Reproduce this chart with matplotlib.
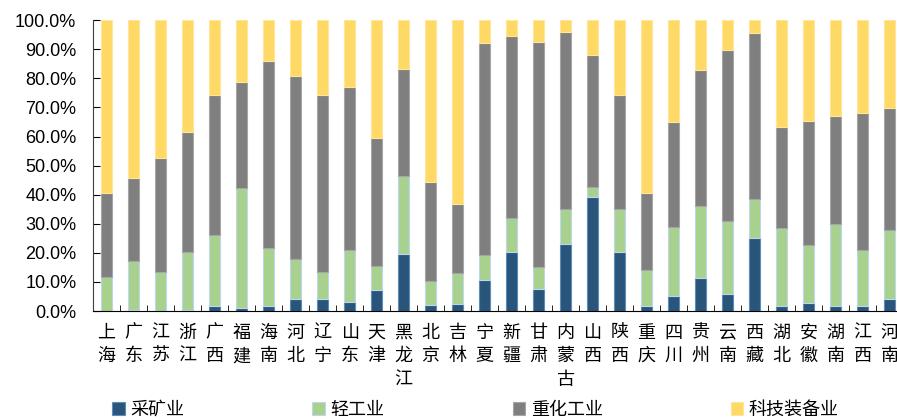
import matplotlib
matplotlib.use("Agg")
import matplotlib.pyplot as plt
import numpy as np
from matplotlib.ticker import FuncFormatter

plt.rcParams['font.family'] = ['Noto Sans CJK SC', 'DejaVu Sans']

# provinces, left to right
provinces = ['上海', '广东', '江苏', '浙江', '广西', '福建', '海南', '河北', '辽宁', '山东',
             '天津', '黑龙江', '北京', '吉林', '宁夏', '新疆', '甘肃', '内蒙古', '山西', '陕西',
             '重庆', '四川', '贵州', '云南', '西藏', '湖北', '安徽', '湖南', '江西', '河南']

mining = [0.0, 0.5, 0.0, 0.2, 1.7, 0.9, 1.7, 4.0, 4.0, 3.0,
          7.1, 19.7, 1.9, 2.4, 10.7, 20.2, 7.4, 23.1, 39.1, 20.2,
          1.6, 5.0, 11.5, 5.7, 25.2, 1.6, 2.9, 1.8, 1.7, 4.0]
light = [11.8, 16.7, 13.5, 20.1, 24.6, 41.5, 19.9, 13.8, 9.4, 18.1,
         8.5, 26.8, 8.4, 10.8, 8.7, 11.9, 7.6, 12.0, 3.6, 14.9,
         12.5, 23.8, 24.7, 25.3, 13.3, 26.9, 19.7, 28.0, 19.4, 23.8]
heavy = [28.7, 28.6, 39.0, 41.1, 47.9, 36.3, 64.2, 63.1, 60.7, 55.9,
         44.0, 36.7, 33.9, 23.7, 72.7, 62.3, 77.4, 60.9, 45.3, 39.0,
         26.6, 36.3, 46.8, 58.6, 57.1, 34.8, 42.6, 37.4, 46.9, 42.0]
tech = [59.5, 54.2, 47.5, 38.6, 25.8, 21.3, 14.2, 19.1, 25.9, 23.0,
        40.4, 16.8, 55.8, 63.1, 7.9, 5.6, 7.6, 4.0, 12.0, 25.9,
        59.3, 34.9, 17.0, 10.4, 4.4, 36.7, 34.8, 32.8, 32.0, 30.2]

series_names = ['采矿业', '轻工业', '重化工业', '科技装备业']
colors = ['#2A557A', '#A9D18E', '#7F7F7F', '#FFD966']
edges = ['#5B8DB8', '#BDD7EE', '#A6A6A6', '#FFE699']

fig = plt.figure(figsize=(8.97, 4.2), dpi=100)
ax = fig.add_axes([0.1037, 0.2595, 0.903, 0.6925])

x = np.arange(len(provinces))
bottom = np.zeros(len(provinces))
for vals, name, c, ec in zip([mining, light, heavy, tech], series_names, colors, edges):
    ax.bar(x, vals, width=0.43, bottom=bottom, color=c, edgecolor=ec,
           linewidth=0.8, label=name)
    bottom += np.array(vals)

ax.set_xlim(-0.5, len(provinces) - 0.5)
ax.set_ylim(0, 100)
ax.set_yticks(np.arange(0, 101, 10))
ax.yaxis.set_major_formatter(FuncFormatter(lambda v, p: f'{v:.1f}%'))
ax.tick_params(axis='y', direction='in', length=5, labelsize=13, pad=12,
               labelfontfamily='Liberation Sans')

ax.set_xticks(x)
ax.set_xticklabels(['\n'.join(p) for p in provinces], fontsize=13, linespacing=1.4,
                   va='top')
ax.set_xticks(np.arange(-0.5, len(provinces), 1), minor=True)
ax.tick_params(axis='x', which='major', length=0, pad=9)
ax.tick_params(axis='x', which='minor', direction='in', length=4)

for s in ['top', 'right']:
    ax.spines[s].set_visible(False)
ax.spines['left'].set_color('#404040')
ax.spines['bottom'].set_color('black')

fig.legend(loc='center', bbox_to_anchor=(0.53, 0.025), ncol=4, frameon=False,
           fontsize=13, handlelength=0.7, handleheight=0.7, handletextpad=0.3,
           columnspacing=7.1)

fig.savefig('out.png', dpi=100)
